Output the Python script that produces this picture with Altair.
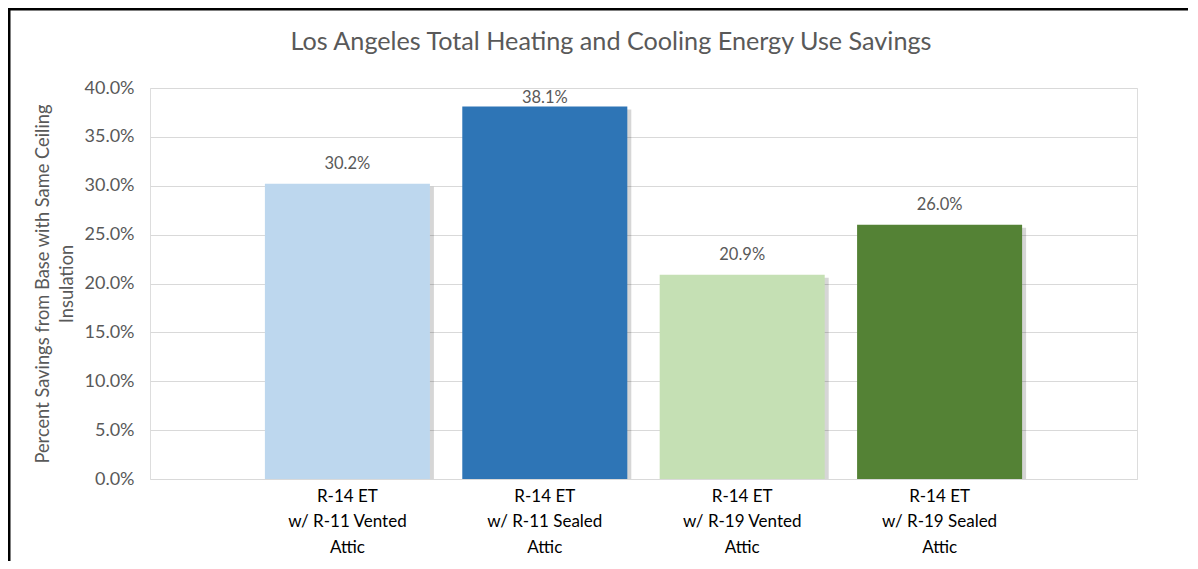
import altair as alt
import pandas as pd

categories = [
    "R-14 ET\nw/ R-11 Vented\nAttic",
    "R-14 ET\nw/ R-11 Sealed\nAttic",
    "R-14 ET\nw/ R-19 Vented\nAttic",
    "R-14 ET\nw/ R-19 Sealed\nAttic",
]
savings = [0.302, 0.381, 0.209, 0.260]
colors = ["#BDD7EE", "#2E75B6", "#C5E0B4", "#548235"]
y_ticks = [0.0, 0.05, 0.10, 0.15, 0.20, 0.25, 0.30, 0.35, 0.40]
title_text = "Los Angeles Total Heating and Cooling Energy Use Savings"
y_title = ["Percent Savings from Base with Same Ceiling", "Insulation"]

df = pd.DataFrame({"cat": categories, "val": savings, "color": colors})

FONT = "Lato"
W, H = 987, 391

xenc = alt.X(
    "cat:N",
    sort=categories,
    scale=alt.Scale(paddingInner=0.164, paddingOuter=0.582),
    axis=alt.Axis(
        title=None,
        labelAngle=0,
        labelExpr="split(datum.label, '\\n')",
        labelFont=FONT,
        labelFontSize=17,
        labelColor="#000000",
        labelLineHeight=25.5,
        labelPadding=9,
        ticks=False,
        domain=False,
        grid=False,
    ),
)
yscale = alt.Scale(domain=[0, 0.40], nice=False)

base = alt.Chart(df)

shadow = base.mark_bar(color="#000000", opacity=0.16, xOffset=4, yOffset=3, clip=True).encode(
    x=xenc,
    y=alt.Y("val:Q", scale=yscale),
)

bars = base.mark_bar().encode(
    x=xenc,
    y=alt.Y(
        "val:Q",
        scale=yscale,
        axis=alt.Axis(
            values=y_ticks,
            format=".1%",
            title=y_title,
            titleFont=FONT,
            titleFontSize=18.3,
            titleFontWeight="normal",
            titleColor="#595959",
            titleLineHeight=24,
            titlePadding=8,
            labelFont=FONT,
            labelFontSize=18,
            labelColor="#595959",
            labelPadding=16,
            ticks=False,
            domain=False,
            gridColor="#D9D9D9",
            gridWidth=1,
        ),
    ),
    color=alt.Color("color:N", scale=None),
)

labels = base.transform_calculate(
    ly="min(datum.val + 0.0205, 0.39)"
).mark_text(font=FONT, fontSize=16.5, color="#595959", baseline="middle").encode(
    x=xenc,
    y=alt.Y("ly:Q", scale=yscale),
    text=alt.Text("val:Q", format=".1%"),
)

title = alt.Chart(pd.DataFrame({"t": [title_text]})).mark_text(
    font=FONT, fontSize=25.2, color="#595959", baseline="middle", align="center"
).encode(x=alt.value(461), y=alt.value(-46), text="t:N")

frame_top = alt.Chart(pd.DataFrame({"a": [0]})).mark_rule(color="#000000", strokeWidth=3).encode(
    x=alt.value(-141), x2=alt.value(1038), y=alt.value(-79)
)
frame_left = alt.Chart(pd.DataFrame({"a": [0]})).mark_rule(color="#000000", strokeWidth=3).encode(
    x=alt.value(-141), y=alt.value(-80), y2=alt.value(500)
)

chart = (
    alt.layer(shadow, bars, labels, title, frame_top, frame_left)
    .properties(
        width=W,
        height=H,
        autosize=alt.AutoSizeParams(type="none"),
        padding={"left": 142, "top": 80, "right": 53, "bottom": 82},
    )
    .configure_view(stroke="#595959", strokeWidth=1.5)
    .configure(background="#FFFFFF")
)

chart.save("out.html", embed_options={"renderer": "svg", "actions": False})
